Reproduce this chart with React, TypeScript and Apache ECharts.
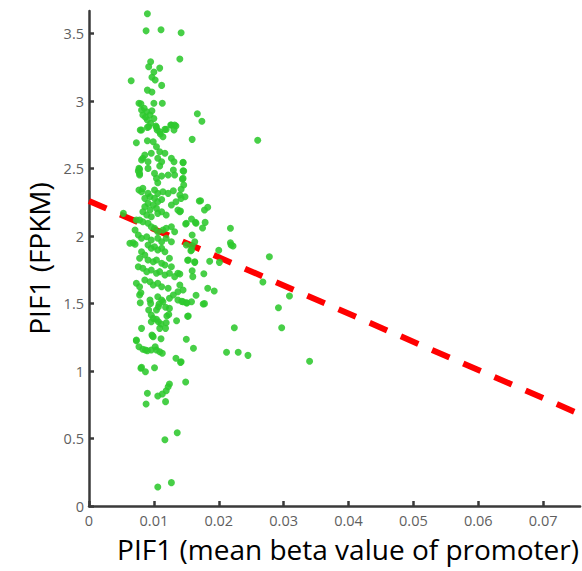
import React, { useEffect, useRef } from "react";
import * as echarts from "echarts";

const xTicks = [0, 0.01, 0.02, 0.03, 0.04, 0.05, 0.06, 0.07];
const yTicks = [0, 0.5, 1, 1.5, 2, 2.5, 3, 3.5];
const xRange = [0, 0.0757];
const yRange = [0, 3.667];

const trendX = [0, 0.0757];
const trendY = [2.26, 0.68];

const upperPoints = [
  [0.009, 3.647], [0.0088, 3.52], [0.0111, 3.528], [0.0142, 3.506], [0.0146, 3.675], [0.014, 3.311],
  [0.0065, 3.15], [0.0095, 3.291], [0.0092, 3.254], [0.0109, 3.244], [0.01, 3.215], [0.0097, 3.176],
  [0.0102, 3.156], [0.0112, 3.116], [0.009, 3.081], [0.0097, 3.067], [0.008, 2.98], [0.01, 2.983],
  [0.0113, 2.983], [0.0167, 2.906], [0.0174, 2.85], [0.0081, 2.785], [0.009, 2.805], [0.0103, 2.815],
  [0.0105, 2.785], [0.0117, 2.79], [0.0127, 2.822], [0.0134, 2.815], [0.011, 2.756], [0.0114, 2.736],
  [0.0159, 2.716], [0.0085, 2.946], [0.0089, 2.921], [0.0094, 2.896], [0.009, 2.859], [0.0095, 2.835],
  [0.0092, 2.81], [0.0097, 2.928], [0.0087, 2.88], [0.01, 2.87], [0.0104, 2.805], [0.0109, 2.773],
  [0.0119, 2.79], [0.0126, 2.822], [0.0132, 2.822], [0.0131, 2.785], [0.0077, 2.983], [0.0081, 2.933],
  [0.0083, 2.896], [0.0079, 2.785], [0.026, 2.709]
];

const midHighPoints = [
  [0.0073, 2.691], [0.009, 2.706], [0.0099, 2.699], [0.0104, 2.661], [0.0109, 2.624], [0.0117, 2.613],
  [0.0096, 2.613], [0.0086, 2.6], [0.0083, 2.576], [0.0091, 2.55], [0.0081, 2.563], [0.0106, 2.576],
  [0.0112, 2.55], [0.0109, 2.519], [0.0127, 2.576], [0.0131, 2.55], [0.0145, 2.543], [0.0145, 2.484],
  [0.0078, 2.494], [0.0078, 2.452], [0.0091, 2.501], [0.0101, 2.464], [0.0104, 2.427], [0.0106, 2.395],
  [0.0112, 2.444], [0.0122, 2.452], [0.013, 2.489], [0.0132, 2.452], [0.0145, 2.427], [0.0146, 2.378],
  [0.0077, 2.341], [0.0083, 2.353], [0.0091, 2.316], [0.0101, 2.341], [0.0106, 2.316], [0.0114, 2.328],
  [0.0122, 2.316], [0.013, 2.336], [0.014, 2.304], [0.0148, 2.291], [0.0076, 2.481], [0.0144, 2.42],
  [0.0142, 2.346], [0.0142, 2.279], [0.0077, 2.501], [0.0078, 2.464], [0.0081, 2.328], [0.0146, 2.481],
  [0.0145, 2.546]
];

const midPoints = [
  [0.0053, 2.168], [0.0086, 2.279], [0.0094, 2.291], [0.0101, 2.279], [0.0106, 2.254], [0.0112, 2.27],
  [0.0091, 2.242], [0.0099, 2.23], [0.0086, 2.217], [0.0104, 2.205], [0.0094, 2.193], [0.0083, 2.18],
  [0.0089, 2.156], [0.0096, 2.143], [0.0106, 2.168], [0.0112, 2.18], [0.0119, 2.156], [0.0127, 2.23],
  [0.0134, 2.254], [0.0137, 2.193], [0.014, 2.18], [0.0141, 2.185], [0.017, 2.259], [0.0178, 2.193],
  [0.0172, 2.261], [0.0183, 2.213], [0.0158, 2.126], [0.0164, 2.101], [0.0149, 2.089], [0.0179, 2.101],
  [0.0175, 2.059], [0.0218, 2.057], [0.0159, 2.007], [0.0218, 1.95], [0.0222, 1.926], [0.0219, 1.933],
  [0.0078, 2.119], [0.0083, 2.106], [0.0091, 2.094], [0.0096, 2.069], [0.0101, 2.057], [0.0106, 2.032],
  [0.0114, 2.044], [0.0119, 2.057], [0.0127, 2.069], [0.0132, 2.032], [0.015, 2.094], [0.0165, 2.094],
  [0.0073, 2.119], [0.0071, 2.044], [0.0076, 2.007], [0.0081, 1.983], [0.0089, 1.995], [0.0096, 1.97],
  [0.0063, 1.946], [0.0071, 1.939], [0.0068, 1.95], [0.0106, 1.983], [0.0112, 1.958], [0.0119, 1.983],
  [0.0127, 1.958], [0.0091, 1.933], [0.0096, 1.909], [0.0101, 1.921], [0.0106, 1.896], [0.0112, 1.909],
  [0.0117, 1.884], [0.015, 1.933], [0.0158, 1.896], [0.0163, 1.958], [0.0159, 1.928], [0.0157, 1.891],
  [0.02, 1.894], [0.0278, 1.847]
];

const midLowPoints = [
  [0.0081, 1.884], [0.0086, 1.859], [0.0078, 1.835], [0.0091, 1.822], [0.0099, 1.81], [0.0104, 1.822],
  [0.0112, 1.798], [0.0117, 1.785], [0.0124, 1.835], [0.0127, 1.773], [0.0153, 1.822], [0.0163, 1.81],
  [0.0152, 1.82], [0.0163, 1.805], [0.0186, 1.813], [0.0201, 1.805], [0.0076, 1.773], [0.0083, 1.761],
  [0.0089, 1.736], [0.0096, 1.748], [0.0104, 1.724], [0.0109, 1.736], [0.0117, 1.711], [0.0124, 1.724],
  [0.0132, 1.699], [0.0137, 1.724], [0.0159, 1.743], [0.016, 1.699], [0.0177, 1.721], [0.014, 1.719],
  [0.0086, 1.674], [0.0094, 1.661], [0.0099, 1.637], [0.0106, 1.65], [0.0112, 1.624], [0.0073, 1.65],
  [0.0078, 1.624], [0.0122, 1.613], [0.0137, 1.587], [0.0145, 1.6], [0.014, 1.637], [0.0268, 1.659],
  [0.0183, 1.613], [0.0193, 1.593], [0.0165, 1.561], [0.0309, 1.556], [0.0078, 1.563], [0.0094, 1.526],
  [0.0106, 1.55], [0.0114, 1.513], [0.0124, 1.539], [0.0158, 1.513], [0.013, 1.563], [0.008, 1.58]
];

const lowPoints = [
  [0.0079, 1.506], [0.0095, 1.501], [0.0108, 1.496], [0.0112, 1.526], [0.0118, 1.472], [0.0124, 1.464],
  [0.0137, 1.526], [0.015, 1.506], [0.0145, 1.513], [0.0176, 1.496], [0.0143, 1.516], [0.0151, 1.504],
  [0.0178, 1.499], [0.0292, 1.469], [0.0092, 1.452], [0.0096, 1.415], [0.0104, 1.452], [0.0107, 1.476],
  [0.012, 1.407], [0.0099, 1.39], [0.0104, 1.383], [0.0107, 1.365], [0.0111, 1.348], [0.0096, 1.365],
  [0.0135, 1.373], [0.0153, 1.407], [0.0152, 1.405], [0.0119, 1.358], [0.0123, 1.419], [0.0081, 1.316],
  [0.0109, 1.316], [0.0118, 1.316], [0.0224, 1.321], [0.0297, 1.321], [0.0097, 1.267], [0.0099, 1.254],
  [0.0111, 1.239], [0.015, 1.235], [0.0098, 1.259], [0.0073, 1.23], [0.0073, 1.224], [0.0077, 1.18],
  [0.0083, 1.161], [0.0087, 1.156], [0.009, 1.15], [0.0096, 1.156], [0.0102, 1.18], [0.0104, 1.156],
  [0.0109, 1.143], [0.0113, 1.131], [0.0161, 1.168], [0.0212, 1.139], [0.023, 1.139], [0.0245, 1.116],
  [0.034, 1.072], [0.0142, 1.069], [0.0134, 1.094], [0.0141, 1.064], [0.008, 1.02], [0.0087, 0.995],
  [0.0081, 1.027], [0.0101, 1.024], [0.0149, 0.919], [0.0124, 0.904], [0.0122, 0.884], [0.0119, 0.854],
  [0.0113, 0.83], [0.0106, 0.815], [0.009, 0.835], [0.0088, 0.756], [0.0118, 0.773], [0.0136, 0.543],
  [0.0117, 0.491], [0.0127, 0.173], [0.0106, 0.141]
];

const allPoints = [...upperPoints, ...midHighPoints, ...midPoints, ...midLowPoints, ...lowPoints];

export default function App() {
  const ref = useRef<HTMLDivElement>(null);
  useEffect(() => {
    document.body.style.margin = "0";
    const chart = echarts.init(ref.current!, undefined, { renderer: "svg" });
    const axisLineStyle = { color: "#3a3a3a", width: 2.5 };
    chart.setOption({
      animation: false,
      backgroundColor: "#ffffff",
      grid: { left: 89, right: 0, top: 11, bottom: 65, containLabel: false },
      xAxis: {
        type: "value",
        min: xRange[0],
        max: xRange[1],
        name: "PIF1 (mean beta value of promoter)",
        nameLocation: "middle",
        nameGap: 29,
        nameTextStyle: {
          fontFamily: "Open Sans",
          fontSize: 28,
          color: "#000",
          padding: [0, 0, 0, 27],
        },
        axisLine: { show: true, onZero: false, lineStyle: axisLineStyle },
        axisTick: { show: true, inside: true, length: 5, customValues: xTicks, lineStyle: axisLineStyle },
        axisLabel: {
          customValues: xTicks,
          fontFamily: "Open Sans",
          fontSize: 14.5,
          color: "#5f5f5f",
          margin: 7,
        },
        splitLine: { show: false },
      },
      yAxis: {
        type: "value",
        min: yRange[0],
        max: yRange[1],
        name: "PIF1 (FPKM)",
        nameLocation: "middle",
        nameGap: 31,
        nameTextStyle: { fontFamily: "Open Sans", fontSize: 28, color: "#000" },
        axisLine: { show: true, onZero: false, lineStyle: axisLineStyle },
        axisTick: { show: true, inside: true, length: 5, customValues: yTicks, lineStyle: axisLineStyle },
        axisLabel: {
          customValues: yTicks,
          fontFamily: "Open Sans",
          fontSize: 14.5,
          color: "#5f5f5f",
          margin: 5,
        },
        splitLine: { show: false },
      },
      series: [
        {
          type: "line",
          data: trendX.map((x, i) => [x, trendY[i]]),
          symbol: "none",
          silent: true,
          lineStyle: { color: "#ff0000", width: 6, type: [19, 15], cap: "butt" },
          z: 1,
        },
        {
          type: "scatter",
          data: allPoints,
          symbolSize: 7,
          itemStyle: { color: "rgb(46,200,46)", opacity: 0.88 },
          z: 2,
        },
      ],
    });
    return () => chart.dispose();
  }, []);
  return <div ref={ref} style={{ width: 582, height: 571 }} />;
}
